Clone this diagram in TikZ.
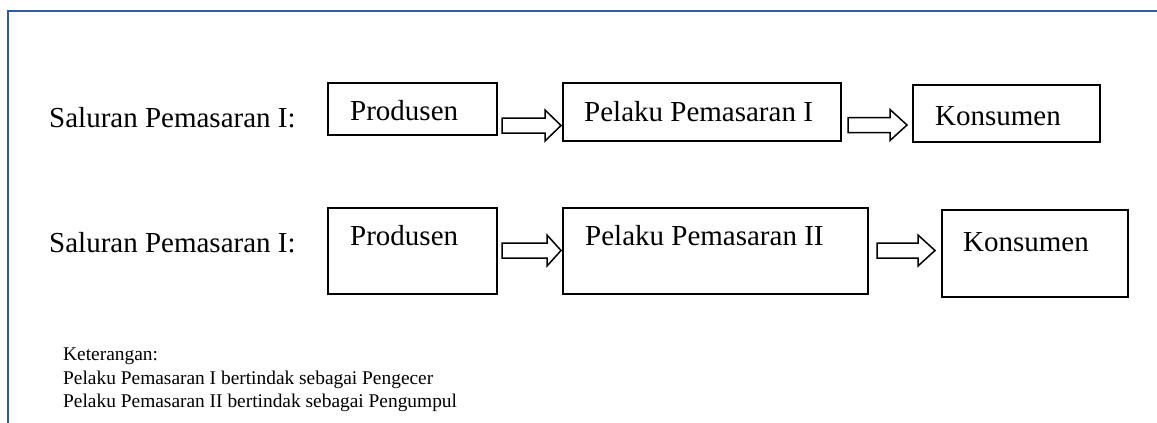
\documentclass[tikz,border=0pt]{standalone}
\usepackage{fontspec}
\setmainfont{Liberation Serif}
\definecolor{frameblue}{RGB}{52,90,158}
\begin{document}
\begin{tikzpicture}[x=1pt,y=-1pt,
  box/.style={draw=black,line width=2pt,rectangle,inner sep=0pt,outer sep=0pt},
  big/.style={font=\fontsize{29}{34}\selectfont,anchor=base west,inner sep=0pt},
  small/.style={font=\fontsize{19.4}{23.5}\selectfont,anchor=base west,inner sep=0pt},
  barrow/.style={draw=black,line width=1.5pt,line join=miter,fill=white}]
\useasboundingbox (0,0) rectangle (1157,423);
% frame (top and left only)
\draw[frameblue,line width=2.6pt] (8,423) -- (8,11) -- (1157,11);
% row 1 boxes
\node[box,minimum width=169pt,minimum height=52pt] (p1) at (412.5,109) {};
\node[box,minimum width=278pt,minimum height=58pt] (l1) at (702,112) {};
\node[box,minimum width=187pt,minimum height=57pt] (k1) at (1006.5,113.5) {};
% row 2 boxes
\node[box,minimum width=169pt,minimum height=86pt] (p2) at (412.5,251) {};
\node[box,minimum width=305pt,minimum height=86pt] (l2) at (715.5,251) {};
\node[box,minimum width=186pt,minimum height=87pt] (k2) at (1035,253.5) {};
% labels
\node[big] (s1) at (49,127) {Saluran Pemasaran I:};
\node[big] (s2) at (49,252) {Saluran Pemasaran I:};
\node[big] (tp1) at (350,120) {Produsen};
\node[big] (tl1) at (584,121) {Pelaku Pemasaran I};
\node[big] (tk1) at (935,125) {Konsumen};
\node[big] (tp2) at (350,245) {Produsen};
\node[big] (tl2) at (585,245) {Pelaku Pemasaran II};
\node[big] (tk2) at (963,251) {Konsumen};
% block arrows
\newcommand{\blockarr}[4]{% start x, head base x, tip x, center y
  \draw[barrow] (#1,#4-7.5) -- (#2,#4-7.5) -- (#2,#4-15.5) -- (#3,#4) -- (#2,#4+15.5) -- (#2,#4+7.5) -- (#1,#4+7.5) -- cycle;}
\blockarr{502}{545}{561}{125.5}
\blockarr{848}{890}{907}{125}
\blockarr{502}{547}{561}{250.5}
\blockarr{877}{918}{935}{250.5}
% notes
\node[small] (n0) at (63,360) {Keterangan:};
\node[small] (n1) at (63,384) {Pelaku Pemasaran I bertindak sebagai Pengecer};
\node[small] (n2) at (63,407) {Pelaku Pemasaran II bertindak sebagai Pengumpul};
\end{tikzpicture}
\end{document}
